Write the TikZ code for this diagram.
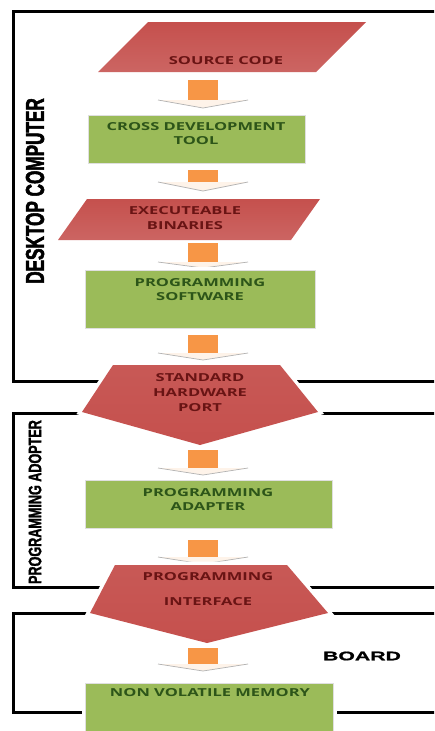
\documentclass[tikz,border=0pt]{standalone}
\usepackage{fontspec}
\newfontfamily\boxfont{Open Sans}[FakeStretch=1.5]
\newfontfamily\deskfont{Liberation Sans Bold}[FakeStretch=0.66, FakeBold=2]
\newfontfamily\adoptfont{Liberation Sans Bold}[FakeStretch=0.7, FakeBold=1.5]
\newfontfamily\boardfont{Liberation Sans Bold}[FakeStretch=1.7, FakeBold=1]
\definecolor{shapered}{RGB}{197,80,77}
\definecolor{shapelight}{RGB}{228,132,130}
\definecolor{redtext}{RGB}{105,20,20}
\definecolor{boxgreen}{RGB}{155,187,89}
\definecolor{greentext}{RGB}{45,85,25}
\definecolor{arroworange}{RGB}{247,150,70}
\newcommand\blkarrow[3]{%
  \fill[arroworange] (188,#1) rectangle (218,#2);
  \fill[arroworange!12] (158,#2) -- (248,#2) -- (203,#3) -- cycle;
  \draw[gray!60, line width=0.7pt] (158,#2) -- (203,#3) -- (248,#2);
}
\begin{document}
\begin{tikzpicture}[x=1pt,y=-1pt,
  frameline/.style={line width=3pt, black},
  halo/.style={preaction={draw=white, line width=7pt}},
  redpara/.style={halo, top color=shapered, bottom color=shapered!88!white},
  redpent/.style={halo, top color=shapered!95!white, middle color=shapelight, bottom color=shapered},
  greenbox/.style={halo, fill=boxgreen, draw=gray!25, line width=1pt},
  redtxt/.style={text=redtext, font=\boxfont\bfseries\fontsize{11}{15}\selectfont, align=center, inner sep=0pt},
  greentxt/.style={text=greentext, font=\boxfont\bfseries\fontsize{11}{14}\selectfont, align=center, inner sep=0pt},
  sidelabel/.style={rotate=90, inner sep=0pt, text=black}
]
\clip (0,0) rectangle (434,731);
\fill[white] (0,0) rectangle (434,731);

% frames
\draw[frameline] (440,11) -- (13,11) -- (13,381) -- (440,381);
\draw[frameline] (440,413) -- (13,413) -- (13,587) -- (440,587);
\draw[frameline] (440,613) -- (13,613) -- (13,712) -- (440,712);

% frame labels
\node[sidelabel, font=\deskfont\fontsize{26}{26}\selectfont] (deskl) at (35,191) {DESKTOP COMPUTER};
\node[sidelabel, font=\adoptfont\fontsize{18}{18}\selectfont] (adoptl) at (35,502) {PROGRAMMING ADOPTER};
\node[inner sep=0pt, font=\boardfont\fontsize{12.5}{12.5}\selectfont] (boardl) at (362,656) {BOARD};

% source code
\path[redpara] (148,22) -- (366,22) -- (316,72) -- (98,72) -- cycle;
\node[redtxt] (src) at (226,61) {SOURCE CODE};

\blkarrow{80}{100}{108}

% cross development tool
\path[greenbox] (88,115) rectangle (305,163);
\node[greentxt] (cdt) at (196,134) {CROSS DEVELOPMENT\\TOOL};

\blkarrow{170}{182}{191}

% executeable binaries
\path[redpara] (87,199) -- (320,199) -- (291,240) -- (58,240) -- cycle;
\node[redtxt] (exb) at (185,218.5) {EXECUTEABLE\\BINARIES};

\blkarrow{243}{262}{268}

% programming software
\path[greenbox] (85,270) rectangle (315,328);
\node[greentxt] (psw) at (200,289.5) {PROGRAMMING\\SOFTWARE};

\blkarrow{335}{353}{360}

% standard hardware port
\path[redpent] (113,365) -- (280,365) -- (318,412) -- (200,445) -- (82,412) -- cycle;
\node[redtxt] (shp) at (200,393) {STANDARD\\HARDWARE\\PORT};

\blkarrow{450}{468}{475}

% programming adapter
\path[greenbox] (85,480) rectangle (332,528);
\node[greentxt] (pad) at (208,499.5) {PROGRAMMING\\ADAPTER};

\blkarrow{540}{557}{564}

% programming interface
\path[redpent] (115,565) -- (287,565) -- (328,613) -- (207,643) -- (90,613) -- cycle;
\node[redtxt] (pif1) at (208,577) {PROGRAMMING};
\node[redtxt] (pif2) at (208,602) {INTERFACE};

\blkarrow{648}{664}{671}

% non volatile memory
\path[greenbox] (85,683) rectangle (333,745);
\node[greentxt] (nvm) at (210,693) {NON VOLATILE MEMORY};
\end{tikzpicture}
\end{document}
